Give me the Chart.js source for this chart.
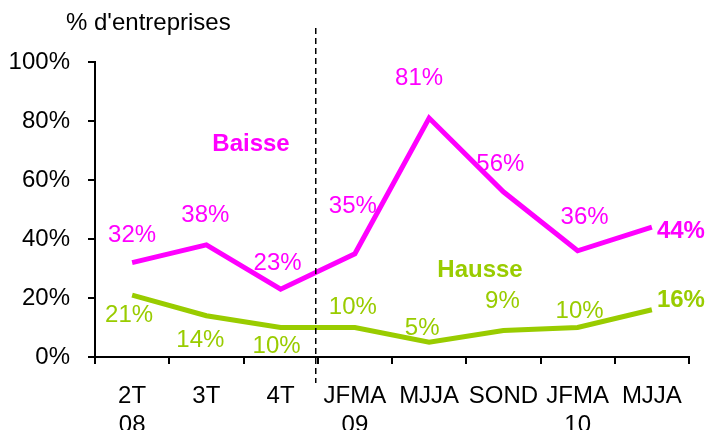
<!DOCTYPE html>
<html><head><meta charset="utf-8">
<script src="https://cdn.jsdelivr.net/npm/chart.js@4/dist/chart.umd.min.js"></script>
<style>html,body{margin:0;padding:0;background:#fff}#wrap{width:707px;height:430px}</style>
</head><body><div id="wrap"><canvas id="c" width="707" height="430"></canvas></div>
<script>
const categories = [["2T","08"],"3T","4T",["JFMA","09"],"MJJA","SOND",["JFMA","10"],"MJJA"];
const baisse = [32,38,23,35,81,56,36,44];
const hausse = [21,14,10,10,5,9,10,16];
const yTicks = [0,20,40,60,80,100];

const MAG = '#FF00FF', GRN = '#99CC00';
const FONT = '"Liberation Sans", Arial, sans-serif';
const FS = 24;
// label nudges relative to each point (style only, pixels)
const baisseNudge = [[0,-27],[-1,-30],[-3,-26],[-2,-47],[-10,-40],[-3,-27],[7,-33],['R',4]];
const hausseNudge = [[-3,20],[-6,25],[-4,19],[-2,-20],[-7,-14],[-1,-29],[2,-16],['R',-9]];

const overlay = {
  id:'overlay',
  afterDatasetsDraw(chart){
    const ctx = chart.ctx, x = chart.scales.x, y = chart.scales.y;
    ctx.save();
    // dashed separator
    const xs = (x.getPixelForValue(2) + x.getPixelForValue(3))/2 - 2;
    ctx.strokeStyle = '#000'; ctx.lineWidth = 1.5; ctx.setLineDash([6,4]);
    ctx.beginPath(); ctx.moveTo(xs, 28); ctx.lineTo(xs, 383); ctx.stroke();
    ctx.setLineDash([]);
    // axis title
    ctx.fillStyle = '#000'; ctx.font = FS + 'px ' + FONT;
    ctx.textAlign = 'left'; ctx.textBaseline = 'middle';
    ctx.fillText("% d'entreprises", 66, 23);
    // data labels
    const drawLabels = (vals, nudge, color) => {
      vals.forEach((v,i) => {
        const px = x.getPixelForValue(i), py = y.getPixelForValue(v);
        const last = i === vals.length - 1;
        ctx.fillStyle = color;
        ctx.font = (last ? 'bold ' : '') + FS + 'px ' + FONT;
        ctx.textBaseline = 'middle';
        const [dx, dy] = nudge[i];
        if (dx === 'R') { ctx.textAlign = 'left'; ctx.fillText(v + '%', px + 5, py + dy); }
        else { ctx.textAlign = 'center'; ctx.fillText(v + '%', px + dx, py + dy); }
      });
    };
    drawLabels(baisse, baisseNudge, MAG);
    drawLabels(hausse, hausseNudge, GRN);
    // series names
    ctx.font = 'bold ' + FS + 'px ' + FONT; ctx.textAlign = 'center';
    ctx.fillStyle = MAG; ctx.fillText('Baisse', 251, 144);
    ctx.fillStyle = GRN; ctx.fillText('Hausse', 480, 270);
    ctx.restore();
  }
};

new Chart(document.getElementById('c'), {
  type:'line',
  data:{ labels: categories, datasets:[
    {label:'Baisse', data: baisse, borderColor: MAG, borderWidth:5, pointRadius:0, tension:0, fill:false},
    {label:'Hausse', data: hausse, borderColor: GRN, borderWidth:5, pointRadius:0, tension:0, fill:false}
  ]},
  options:{
    responsive:false, animation:false,
    layout:{padding:{top:62, right:18, left:0, bottom:0}},
    plugins:{legend:{display:false}, tooltip:{enabled:false}},
    scales:{
      x:{ offset:true,
          grid:{offset:true, drawOnChartArea:false, color:'#000', lineWidth:2, tickLength:7},
          border:{color:'#000', width:2},
          ticks:{color:'#000', font:{family:FONT, size:FS, lineHeight:1.2}, padding:18, maxRotation:0, autoSkip:false},
          afterFit(s){ s.height = 73; } },
      y:{ min:0, max:100,
          afterBuildTicks(s){ s.ticks = yTicks.map(v=>({value:v})); },
          grid:{drawOnChartArea:false, color:'#000', lineWidth:2, tickLength:7},
          border:{color:'#000', width:2},
          ticks:{color:'#000', font:{family:FONT, size:FS}, padding:18, callback:v=>v+'%'},
          afterFit(s){ s.width = 95; } }
    }
  },
  plugins:[overlay]
});
</script></body></html>
